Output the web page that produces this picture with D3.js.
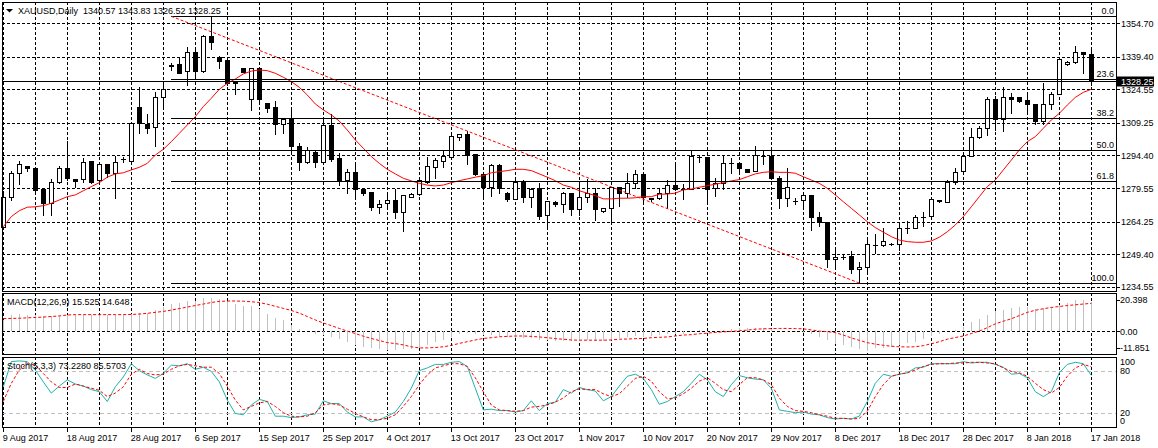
<!DOCTYPE html>
<html>
<head>
<meta charset="utf-8">
<script src="https://cdn.jsdelivr.net/npm/d3@7"></script>
<style>
body { margin: 0; background: #fff; }
text { font-family: "Liberation Sans", Arial, sans-serif; font-size: 9px; fill: #000; white-space: pre; }
</style>
</head>
<body>
<div id="canvas"></div>
<script>
// XAUUSD daily bars, 9 Aug 2017 .. 17 Jan 2018
var dateLabels = ["9 Aug 2017","18 Aug 2017","28 Aug 2017","6 Sep 2017","15 Sep 2017","25 Sep 2017",
	"4 Oct 2017","13 Oct 2017","23 Oct 2017","1 Nov 2017","10 Nov 2017","20 Nov 2017","29 Nov 2017",
	"8 Dec 2017","18 Dec 2017","28 Dec 2017","8 Jan 2018","17 Jan 2018"];

var opens = [1261.9,1275.6,1286.3,1289.6,1288.6,1279.2,1272.6,1282.4,1288.6,1283.5,
	1283.5,1291.9,1283.2,1290.5,1286.3,1292.6,1292.0,1316.4,1308.8,1307.3,
	1321.2,1335.4,1336.0,1332.9,1341.5,1333.1,1348.9,1339.5,1338.0,1328.4,
	1334.2,1320.3,1334.2,1318.2,1316.4,1308.6,1311.4,1298.7,1291.6,1296.1,
	1291.6,1308.3,1293.1,1283.2,1286.7,1279.1,1277.7,1270.8,1272.6,1274.1,
	1268.8,1275.6,1276.7,1282.4,1289.3,1292.0,1293.9,1303.0,1304.2,1295.1,
	1285.8,1280.2,1290.1,1277.4,1274.7,1282.4,1275.6,1279.4,1267.1,1273.3,
	1272.1,1277.2,1269.9,1275.3,1277.4,1269.1,1270.3,1279.9,1277.4,1281.7,
	1285.9,1274.7,1274.9,1277.4,1280.8,1279.1,1279.1,1293.6,1293.6,1279.4,
	1282.0,1291.1,1291.1,1288.1,1287.3,1294.3,1294.3,1284.0,1274.9,1273.8,
	1274.0,1276.2,1266.2,1264.2,1247.0,1248.2,1248.5,1242.5,1243.7,1253.6,
	1253.6,1254.0,1253.9,1261.5,1261.5,1266.5,1266.8,1273.9,1273.3,1282.4,
	1287.5,1294.2,1302.7,1306.8,1320.0,1310.9,1320.9,1320.9,1319.7,1317.7,
	1310.3,1317.7,1322.5,1336.0,1336.9,1341.5,1340.57];

var highs = [1278.7,1287.8,1292.3,1289.8,1288.8,1279.4,1284.0,1290.1,1301.5,1283.7,
	1293.9,1292.0,1290.8,1290.8,1294.6,1294.2,1309.8,1326.1,1313.6,1324.0,
	1328.8,1336.9,1339.8,1344.5,1344.0,1349.7,1357.9,1340.2,1338.1,1328.5,
	1334.3,1334.2,1334.9,1318.3,1319.7,1311.4,1315.9,1300.7,1298.9,1296.9,
	1312.4,1313.6,1296.1,1288.6,1290.5,1279.2,1277.8,1274.4,1277.2,1279.4,
	1276.5,1277.9,1285.2,1294.2,1293.6,1296.9,1304.8,1304.3,1306.0,1295.2,
	1286.7,1290.8,1290.8,1278.3,1284.0,1283.7,1279.9,1282.4,1274.1,1274.1,
	1278.3,1277.8,1282.4,1284.3,1280.2,1270.7,1280.0,1280.6,1287.0,1288.1,
	1286.0,1275.6,1279.4,1283.5,1290.8,1281.7,1296.9,1294.6,1293.7,1284.7,
	1294.6,1293.9,1291.5,1288.2,1299.2,1296.9,1298.0,1285.5,1289.3,1275.6,
	1276.3,1276.8,1269.2,1264.3,1252.0,1249.3,1251.3,1246.4,1257.3,1258.9,
	1261.6,1254.7,1264.7,1265.0,1267.6,1269.2,1274.9,1274.1,1283.5,1289.3,
	1295.1,1307.5,1308.3,1321.5,1322.0,1326.1,1323.5,1321.2,1323.0,1317.8,
	1328.1,1324.0,1338.7,1338.0,1344.8,1342.2,1343.83];

var lows = [1261.5,1274.1,1281.3,1287.5,1278.3,1267.3,1267.3,1281.7,1283.2,1280.2,
	1282.4,1281.7,1281.7,1284.7,1275.1,1291.6,1291.8,1304.8,1304.8,1298.9,
	1316.4,1333.4,1331.9,1326.6,1330.3,1332.6,1342.8,1334.2,1326.6,1322.5,
	1332.6,1315.2,1318.9,1314.4,1304.2,1304.8,1295.1,1287.8,1290.8,1289.3,
	1291.4,1291.9,1280.9,1277.4,1275.6,1276.4,1269.5,1268.0,1270.3,1266.0,
	1260.1,1275.5,1276.5,1282.0,1284.3,1289.3,1293.8,1301.5,1290.4,1285.7,
	1275.6,1275.9,1277.4,1273.6,1274.6,1273.3,1270.8,1265.4,1261.9,1271.5,
	1268.8,1267.3,1267.3,1273.0,1265.0,1268.7,1264.7,1271.5,1275.6,1279.4,
	1273.3,1273.8,1274.7,1270.3,1278.7,1274.5,1279.0,1291.6,1273.3,1275.9,
	1279.0,1286.5,1286.3,1287.0,1287.2,1290.4,1283.9,1270.3,1271.5,1272.3,
	1270.3,1260.4,1262.4,1243.7,1242.9,1247.0,1240.7,1236.2,1240.2,1250.1,
	1253.1,1253.6,1251.3,1258.9,1261.2,1262.4,1266.5,1273.2,1273.0,1281.4,
	1287.3,1294.0,1302.5,1303.7,1306.0,1305.7,1313.6,1318.9,1314.4,1308.8,
	1308.8,1315.5,1322.3,1335.9,1336.5,1331.9,1326.52];

var closes = [1275.6,1286.3,1290.4,1288.6,1278.7,1272.6,1282.4,1288.6,1284.3,1282.9,
	1291.6,1282.4,1290.5,1286.5,1291.3,1292.8,1309.1,1309.1,1307.1,1321.2,
	1324.6,1335.5,1332.2,1341.5,1333.1,1348.9,1346.3,1337.6,1327.3,1327.3,
	1332.6,1334.2,1320.0,1316.2,1308.6,1311.0,1298.9,1291.6,1296.9,1291.6,
	1308.3,1292.8,1283.2,1286.7,1279.2,1277.4,1270.7,1272.3,1274.1,1268.8,
	1276.4,1276.8,1283.2,1289.6,1292.3,1294.2,1303.3,1304.2,1294.6,1285.8,
	1280.2,1290.1,1279.4,1274.7,1282.4,1275.6,1279.1,1266.9,1273.5,1272.1,
	1277.2,1269.9,1275.3,1277.4,1269.9,1270.3,1279.9,1277.4,1281.7,1285.9,
	1275.3,1274.8,1277.4,1280.8,1279.2,1279.0,1294.3,1293.5,1279.0,1282.0,
	1290.8,1291.0,1288.6,1287.0,1294.6,1294.2,1284.0,1274.9,1279.9,1273.7,
	1276.2,1266.2,1264.2,1247.0,1248.1,1248.3,1242.5,1243.7,1253.9,1253.5,
	1255.4,1254.1,1261.2,1261.4,1266.2,1266.4,1274.6,1273.6,1282.2,1287.0,
	1294.2,1302.7,1306.8,1320.0,1310.9,1320.9,1320.0,1319.4,1317.7,1310.3,
	1317.7,1322.5,1338.3,1336.9,1341.5,1340.6,1328.25];

// red moving average on the price panel
var maLine = [1261.9,1266.5,1269.2,1270.8,1271.0,1271.5,1272.6,1274.1,1275.6,1276.4,
	1278.3,1280.2,1282.0,1284.5,1286.0,1286.5,1287.8,1289.0,1290.8,1294.6,
	1297.2,1300.7,1304.5,1308.3,1312.1,1316.7,1320.5,1324.6,1327.3,1329.3,
	1331.6,1332.9,1333.4,1333.1,1331.9,1330.1,1328.1,1325.5,1322.0,1317.9,
	1315.2,1312.9,1310.1,1306.0,1301.5,1297.7,1293.9,1290.8,1288.1,1286.0,
	1284.0,1282.8,1281.7,1280.9,1280.5,1280.9,1282.0,1282.9,1283.7,1284.5,
	1285.2,1286.5,1287.0,1287.5,1288.1,1288.1,1287.5,1286.0,1284.5,1282.9,
	1280.9,1279.9,1278.3,1277.2,1276.1,1274.6,1274.6,1274.9,1274.9,1275.1,
	1275.6,1275.6,1276.7,1276.8,1277.2,1278.7,1279.1,1279.9,1280.6,1281.3,
	1282.0,1282.8,1283.4,1284.7,1286.0,1286.7,1287.0,1286.7,1286.7,1286.3,
	1284.7,1283.2,1281.7,1279.4,1276.4,1273.3,1270.3,1267.3,1264.2,1261.5,
	1259.4,1257.4,1255.8,1255.1,1254.8,1254.8,1255.4,1257.1,1259.6,1262.7,
	1266.5,1271.0,1275.6,1280.2,1283.2,1287.8,1292.3,1296.9,1300.7,1303.0,
	1306.8,1310.6,1313.6,1317.4,1320.9,1323.2,1324.6];

var macdHist = [6.1,8.3,9.2,8.7,8.3,8.2,8.2,8.2,8.5,8.3,
	8.5,8.3,8.3,8.5,8.5,8.5,9.2,9.8,9.8,11.3,
	12.6,14.1,14.8,15.8,16.1,17.4,17.6,17.2,15.8,14.4,
	13.5,13.5,11.8,9.2,7.1,5.7,3.1,0.9,0.2,-1.3,
	-2.1,-3.0,-4.3,-5.6,-7.3,-8.2,-9.0,-9.4,-10.2,-10.1,
	-9.6,-9.6,-8.7,-7.3,-5.7,-4.8,-3.1,-1.7,-1.1,-1.7,
	-2.2,-2.1,-2.6,-3.1,-3.5,-3.9,-3.9,-4.8,-4.7,-5.2,
	-5.2,-5.2,-5.2,-4.8,-5.2,-5.2,-4.5,-3.9,-3.1,-2.8,
	-3.1,-2.6,-2.1,-1.7,-1.7,-1.4,-0.5,0.4,-0.4,0.0,
	0.4,1.1,1.4,1.4,1.7,1.4,0.9,0.2,-0.4,-0.7,
	-0.9,-1.7,-3.1,-4.8,-6.6,-7.3,-8.3,-9.6,-10.4,-9.2,
	-9.0,-8.3,-7.3,-6.5,-5.6,-4.3,-2.6,-1.4,0.0,0.5,
	2.1,4.7,6.5,8.7,10.4,11.3,12.2,12.6,12.5,11.8,
	12.2,12.5,13.6,15.0,16.2,16.3,15.525];

var macdSignal = [6.6,6.7,6.8,7.0,7.2,7.4,7.7,8.0,8.5,8.7,
	8.7,8.7,8.7,8.7,8.7,8.7,8.8,9.0,9.4,9.9,
	10.4,11.1,11.9,12.7,13.5,14.3,15.1,15.7,15.9,15.9,
	15.8,15.5,15.1,14.2,13.1,12.0,10.9,9.5,7.7,5.9,
	4.3,2.9,1.4,0.0,-1.3,-2.7,-3.9,-5.0,-6.1,-6.6,
	-7.3,-8.3,-8.9,-8.9,-8.7,-8.3,-7.6,-6.5,-5.6,-4.7,
	-3.9,-3.5,-3.0,-2.8,-2.6,-2.6,-2.8,-3.1,-3.5,-4.0,
	-4.3,-4.7,-4.8,-4.8,-4.8,-4.8,-4.7,-4.3,-4.2,-4.0,
	-3.9,-3.5,-3.3,-3.1,-2.6,-2.1,-1.9,-1.4,-1.1,-0.7,
	-0.4,-0.2,0.2,0.5,1.0,1.2,1.3,1.4,1.4,1.3,
	1.2,0.6,0.0,-0.3,-0.8,-2.1,-3.6,-4.9,-6.1,-6.9,
	-7.5,-8.0,-8.3,-8.4,-8.3,-7.7,-6.7,-5.6,-4.3,-3.4,
	-2.6,-1.3,0.0,1.8,3.8,5.2,6.5,8.2,9.9,11.0,
	11.8,12.5,13.0,13.5,13.9,14.3,14.648];

var stochMain = [57,93,94,93,81,64,48,58,67,61,
	58,53,50,36,57,71,90,80,74,69,
	76,88,87,90,82,85,79,64,38,19,
	17,31,39,36,15,15,13,14,17,18,
	37,33,33,21,14,14,7,10,15,21,
	36,55,80,84,89,89,92,93,86,55,
	24,25,23,23,21,23,37,23,33,35,
	53,48,56,53,51,37,43,58,72,75,
	69,53,32,36,43,50,62,75,67,50,
	43,60,73,70,68,67,55,24,22,20,
	21,18,17,13,11,12,11,15,36,62,
	75,72,75,77,84,85,90,90,90,90,
	93,91,92,92,89,85,75,76,70,50,
	43,50,77,89,92,90,73.228];

var stochSignal = [36,62,81,90,88,76,64,56,56,61,
	58,55,52,43,48,57,75,82,76,74,
	75,82,87,89,87,85,85,76,58,38,
	24,29,34,36,29,20,15,14,15,20,
	31,33,31,25,19,14,10,10,12,17,
	29,43,60,74,84,87,90,90,86,70,
	50,31,24,23,22,23,28,29,31,35,
	41,50,54,53,53,47,43,47,58,69,
	72,65,50,40,41,47,55,65,70,62,
	53,50,60,70,70,67,60,41,29,23,
	22,20,17,15,12,12,11,12,22,43,
	60,72,75,77,81,86,89,90,90,91,
	91,92,92,91,90,84,79,77,72,62,
	53,48,56,72,84,89,85.5703];

var priceTicks = [1354.70,1339.40,1324.55,1309.25,1294.40,1279.55,1264.25,1249.40,1234.55];
var macdTicks = [20.398, 0, -11.851];
var macdTickLabels = ["20.398", "0.00", "-11.851"];
var stochTicks = [100, 80, 20, 0];
var stochLevels = [80, 20];

// fibonacci retracement object
var fibLevels = [0, 23.6, 38.2, 50, 61.8, 100];
var fibLabels = ["0.0", "23.6", "38.2", "50.0", "61.8", "100.0"];
var fibHigh = 1357.9, fibLow = 1236.2;
var fibFrom = 21, fibTo = 107;

var headerText = "XAUUSD,Daily  1340.57 1343.83 1326.52 1328.25";
var macdText = "MACD(12,26,9) 15.525 14.648";
var stochText = "Stoch(5,3,3) 73.2280 85.5703";

var W = 1158, H = 448;
var left = 2, right = 1116;
var mainTop = 2, mainBot = 290.5;
var macdTop = 292.5, macdBot = 353.5;
var stTop = 356.5, stBot = 426.5;

var svg, x, yPrice, yMacd, yStoch;

function px(v) { return Math.round(v) + 0.5; }

function init() {
	svg = d3.select("#canvas").append("svg")
		.attr("width", W)
		.attr("height", H);

	x = d3.scaleLinear().domain([0, opens.length - 1]).range([3.3, 1091.3]);
	yPrice = d3.scaleLinear().domain([1232.8, 1364.42]).range([mainBot, mainTop]);
	yMacd = d3.scaleLinear().domain([-11.851, 20.398]).range([macdBot, macdTop]);
	yStoch = d3.scaleLinear().domain([0, 100]).range([426.7, 356.7]);

	drawGrid();
	drawCandles();
	drawFib();
	drawMacd();
	drawStoch();
	drawFrames();
	drawAxes();
}

function drawGrid() {
	var g = svg.append("g").attr("shape-rendering", "crispEdges");
	var vIdx = d3.range(0, opens.length, 4);

	[[mainTop, mainBot], [macdTop, macdBot], [stTop, stBot]].forEach(function (p) {
		g.selectAll(null)
			.data(vIdx)
			.enter()
			.append("line")
			.attr("x1", function (d) { return px(x(d)); })
			.attr("x2", function (d) { return px(x(d)); })
			.attr("y1", p[0])
			.attr("y2", p[1])
			.attr("stroke", "#000")
			.attr("stroke-dasharray", "3,2");
	});

	g.selectAll("line.hgrid")
		.data(priceTicks)
		.enter()
		.append("line")
		.attr("x1", left)
		.attr("x2", right)
		.attr("y1", function (d) { return px(yPrice(d)); })
		.attr("y2", function (d) { return px(yPrice(d)); })
		.attr("stroke", "#000")
		.attr("stroke-dasharray", "3,2");

	// macd zero line
	g.append("line")
		.attr("x1", left).attr("x2", right)
		.attr("y1", px(yMacd(0))).attr("y2", px(yMacd(0)))
		.attr("stroke", "#000")
		.attr("stroke-dasharray", "3,2");

	// stoch levels
	g.selectAll("line.lvl")
		.data(stochLevels)
		.enter()
		.append("line")
		.attr("x1", left).attr("x2", right)
		.attr("y1", function (d) { return px(yStoch(d)); })
		.attr("y2", function (d) { return px(yStoch(d)); })
		.attr("stroke", "#c0c0c0")
		.attr("stroke-dasharray", "4,3");
}

function drawCandles() {
	var g = svg.append("g").attr("shape-rendering", "crispEdges");
	var bars = d3.range(opens.length);

	g.selectAll("line.wick")
		.data(bars)
		.enter()
		.append("line")
		.attr("x1", function (i) { return px(x(i)); })
		.attr("x2", function (i) { return px(x(i)); })
		.attr("y1", function (i) { return px(yPrice(highs[i])); })
		.attr("y2", function (i) { return px(yPrice(lows[i])); })
		.attr("stroke", "#000");

	bars.forEach(function (i) {
		var cx = px(x(i));
		var top = px(yPrice(Math.max(opens[i], closes[i])));
		var bot = px(yPrice(Math.min(opens[i], closes[i])));
		if (bot - top < 1) {
			g.append("line")
				.attr("x1", cx - 2.5).attr("x2", cx + 2.5)
				.attr("y1", top).attr("y2", top)
				.attr("stroke", "#000");
		} else {
			g.append("rect")
				.attr("x", cx - 2)
				.attr("y", top)
				.attr("width", 4)
				.attr("height", bot - top)
				.attr("fill", closes[i] >= opens[i] ? "#fff" : "#000")
				.attr("stroke", "#000");
		}
	});

	var line = d3.line()
		.x(function (d, i) { return x(i); })
		.y(function (d) { return yPrice(d); });

	svg.append("path")
		.datum(maLine)
		.attr("d", line)
		.attr("fill", "none")
		.attr("stroke", "#ff0000")
		.attr("stroke-width", 1);
}

function drawFib() {
	var g = svg.append("g");
	var fibY = function (lv) { return px(yPrice(fibHigh - (fibHigh - fibLow) * lv / 100)); };

	g.selectAll("line.fib")
		.data(fibLevels)
		.enter()
		.append("line")
		.attr("x1", px(x(fibFrom)) - 0.5)
		.attr("x2", right)
		.attr("y1", fibY)
		.attr("y2", fibY)
		.attr("stroke", "#000")
		.attr("shape-rendering", "crispEdges");

	g.selectAll("text.fib")
		.data(fibLevels)
		.enter()
		.append("text")
		.text(function (d, i) { return fibLabels[i]; })
		.attr("x", 1114)
		.attr("y", function (d) { return fibY(d) - 2.5; })
		.attr("text-anchor", "end");

	g.append("line")
		.attr("x1", x(fibFrom)).attr("y1", yPrice(fibHigh))
		.attr("x2", x(fibTo)).attr("y2", yPrice(fibLow))
		.attr("stroke", "#ff0000")
		.attr("stroke-dasharray", "3,2");

	// bid line at the last close
	var last = closes[closes.length - 1];
	g.append("line")
		.attr("x1", left).attr("x2", right)
		.attr("y1", px(yPrice(last))).attr("y2", px(yPrice(last)))
		.attr("stroke", "#000")
		.attr("shape-rendering", "crispEdges");
}

function drawMacd() {
	var g = svg.append("g").attr("shape-rendering", "crispEdges");
	g.selectAll("line.hist")
		.data(macdHist)
		.enter()
		.append("line")
		.attr("x1", function (d, i) { return px(x(i)); })
		.attr("x2", function (d, i) { return px(x(i)); })
		.attr("y1", yMacd(0))
		.attr("y2", function (d) { return Math.round(yMacd(d)); })
		.attr("stroke", "#c0c0c0");

	var line = d3.line()
		.x(function (d, i) { return x(i); })
		.y(function (d) { return yMacd(d); });

	svg.append("path")
		.datum(macdSignal)
		.attr("d", line)
		.attr("fill", "none")
		.attr("stroke", "#ff0000")
		.attr("stroke-dasharray", "3,2");
}

function drawStoch() {
	var line = d3.line()
		.x(function (d, i) { return x(i); })
		.y(function (d) { return yStoch(d); });

	svg.append("path")
		.datum(stochMain)
		.attr("d", line)
		.attr("fill", "none")
		.attr("stroke", "#20b2aa");

	svg.append("path")
		.datum(stochSignal)
		.attr("d", line)
		.attr("fill", "none")
		.attr("stroke", "#ff0000")
		.attr("stroke-dasharray", "3,2");
}

function drawFrames() {
	var g = svg.append("g").attr("shape-rendering", "crispEdges");
	[[mainTop, mainBot], [macdTop, macdBot], [stTop, stBot]].forEach(function (p) {
		g.append("rect")
			.attr("x", px(left))
			.attr("y", px(p[0]))
			.attr("width", Math.round(right - left))
			.attr("height", Math.round(p[1] - p[0]))
			.attr("fill", "none")
			.attr("stroke", "#000");
	});

	// header + indicator titles
	svg.append("path")
		.attr("d", "M6,9 L13,9 L9.5,12.5 Z")
		.attr("fill", "#000");
	svg.append("text").text(headerText).attr("x", 18).attr("y", 14);
	svg.append("text").text(macdText).attr("x", 7).attr("y", 304.5);
	svg.append("text").text(stochText).attr("x", 7).attr("y", 368.5);
}

function drawAxes() {
	var g = svg.append("g");
	var tx = 1121;

	g.selectAll("line.ptick")
		.data(priceTicks)
		.enter()
		.append("line")
		.attr("x1", right).attr("x2", right + 4)
		.attr("y1", function (d) { return px(yPrice(d)); })
		.attr("y2", function (d) { return px(yPrice(d)); })
		.attr("stroke", "#000")
		.attr("shape-rendering", "crispEdges");

	g.selectAll("text.ptick")
		.data(priceTicks)
		.enter()
		.append("text")
		.text(function (d) { return d.toFixed(2); })
		.attr("x", tx)
		.attr("y", function (d) { return yPrice(d) + 3.5; });

	// current price tag
	var last = closes[closes.length - 1];
	var ly = px(yPrice(last));
	g.append("rect")
		.attr("x", right).attr("y", ly - 5)
		.attr("width", 38).attr("height", 10)
		.attr("fill", "#000");
	g.append("text")
		.text(last.toFixed(2))
		.attr("x", tx)
		.attr("y", ly + 3.5)
		.style("fill", "#fff");

	var clampY = function (v, top, bot, m) { return Math.max(top + m, Math.min(bot - 6, v)); };

	g.selectAll("text.mtick")
		.data(macdTicks)
		.enter()
		.append("text")
		.text(function (d, i) { return macdTickLabels[i]; })
		.attr("x", 1120)
		.attr("y", function (d) { return clampY(yMacd(d), macdTop, macdBot, 7) + 3.5; });

	g.selectAll("line.mtick")
		.data(macdTicks)
		.enter()
		.append("line")
		.attr("x1", right).attr("x2", right + 4)
		.attr("y1", function (d) { return px(clampY(yMacd(d), macdTop, macdBot, 7)); })
		.attr("y2", function (d) { return px(clampY(yMacd(d), macdTop, macdBot, 7)); })
		.attr("stroke", "#000")
		.attr("shape-rendering", "crispEdges");

	g.selectAll("text.stick")
		.data(stochTicks)
		.enter()
		.append("text")
		.text(function (d) { return d; })
		.attr("x", 1120)
		.attr("y", function (d) { return clampY(yStoch(d), stTop, stBot, 5) + 3; });

	// date axis
	var dIdx = dateLabels.map(function (d, i) { return i * 8; });
	g.selectAll("line.dtick")
		.data(dIdx)
		.enter()
		.append("line")
		.attr("x1", function (d) { return px(x(d)); })
		.attr("x2", function (d) { return px(x(d)); })
		.attr("y1", stBot).attr("y2", stBot + 5)
		.attr("stroke", "#000")
		.attr("shape-rendering", "crispEdges");

	g.selectAll("text.date")
		.data(dIdx)
		.enter()
		.append("text")
		.text(function (d, i) { return dateLabels[i]; })
		.attr("x", function (d) { return x(d) - 0.5; })
		.attr("y", 440.5);
}

init();
</script>
</body>
</html>
